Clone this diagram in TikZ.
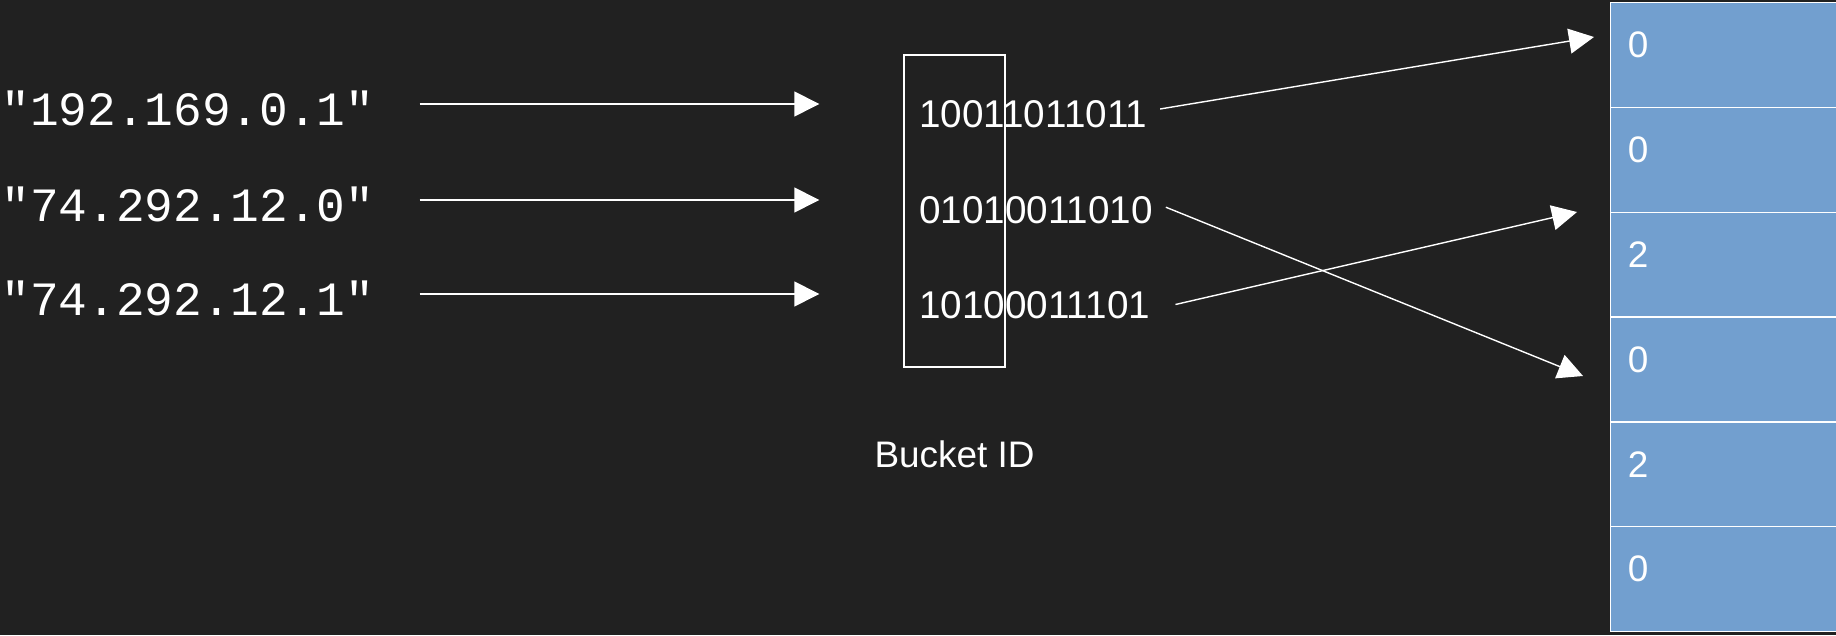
\documentclass[tikz,border=0pt]{standalone}
\usepackage{fontspec}
\setmainfont{Liberation Sans}
\setmonofont{Liberation Mono}
\usetikzlibrary{arrows.meta,positioning}

\definecolor{canvas}{RGB}{33,33,33}
\definecolor{slotblue}{RGB}{114,159,207}

\tikzset{
  flow/.style={draw=white, line width=0.8pt, -{Triangle[length=0.5cm,width=0.5cm]}},
  address/.style={text=white, font=\ttfamily\fontsize{27.2}{33}\selectfont, anchor=west, inner sep=0pt},
  hashbits/.style={text=white, font=\fontsize{22}{26}\selectfont, anchor=west, inner sep=0pt},
  caption/.style={text=white, font=\fontsize{21}{25}\selectfont, inner sep=0pt},
  slot/.style={draw=white, line width=0.8pt, fill=slotblue, minimum width=5cm, minimum height=2.096cm, anchor=north west, inner sep=0pt},
  slotval/.style={text=white, font=\fontsize{21}{25}\selectfont, anchor=west, inner sep=0pt},
}

\begin{document}
\begin{tikzpicture}[scale=1]
  % fondo
  \clip (0,0) rectangle (36.72,12.7);
  \fill[canvas] (0,0) rectangle (36.72,12.7);

  % direcciones de entrada
  \node[address] (ip1) at (0.02,10.54) {"192.169.0.1"};
  \node[address] (ip2) at (0.02,8.62) {"74.292.12.0"};
  \node[address] (ip3) at (0.02,6.74) {"74.292.12.1"};

  % hashes y prefijo
  \node[draw=white, line width=0.8pt, minimum width=2.02cm, minimum height=6.24cm, inner sep=0pt] (prefix) at (19.09,8.48) {};
  \node[hashbits] (bits1) at (18.38,10.41) {10011011011};
  \node[hashbits] (bits2) at (18.38,8.506) {01010011010};
  \node[hashbits] (bits3) at (18.38,6.59) {10100011101};
  \node[caption, below=1.46cm of prefix] (bucketid) {Bucket ID};

  \foreach \i in {1,2,3}
    \draw[flow, shorten <=0.9cm, shorten >=1.68cm] ([yshift=0.08cm]ip\i.east) -- ([yshift=0.08cm]ip\i.east -| prefix.west);

  % registros
  \foreach \v [count=\i] in {0,0,2,0,2,0} {
    \node[slot] (cell\i) at (32.2,{12.66-(\i-1)*2.096}) {};
    \node[slotval] (val\i) at ([xshift=0.35cm,yshift=0.2cm]cell\i.west) {\v};
  }

  \coordinate (hitA) at (31.88,11.96);
  \coordinate (hitB) at (31.66,5.18);
  \coordinate (hitC) at (31.54,8.46);

  \draw[flow] ([shift={(0.25,0.11)}]bits1.east) -- (hitA);
  \draw[flow] ([shift={(0.25,0.05)}]bits2.east) -- (hitB);
  \draw[flow] ([shift={(0.5,0.02)}]bits3.east) -- (hitC);
\end{tikzpicture}
\end{document}
